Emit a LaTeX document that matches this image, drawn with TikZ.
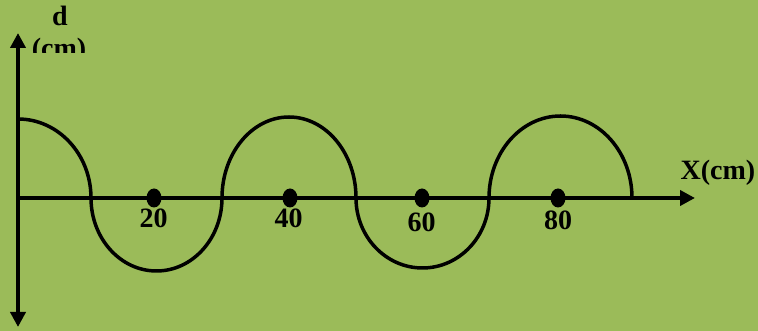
\documentclass[tikz,border=0pt]{standalone}
\usepackage{fontspec}
\setmainfont{Liberation Serif}
\usetikzlibrary{arrows.meta, shapes.geometric}
\definecolor{olivebg}{HTML}{9BBB59}

\begin{document}
\begin{tikzpicture}[x=1pt,y=1pt,axis/.style={line width=4pt,-{Triangle[length=15pt,width=15pt]}},wave/.style={line width=3.5pt},dot/.style={fill,ellipse,minimum width=15pt,minimum height=19pt,inner sep=0pt},lbl/.style={font=\fontsize{28}{30}\selectfont\bfseries,inner sep=0pt,anchor=base}]
\fill[olivebg] (0,0) rectangle (758,331);
\useasboundingbox (0,0) rectangle (758,331);
\coordinate (o) at (18,133);\coordinate (ytop) at (18,298);\coordinate (ybot) at (18,4);\coordinate (xend) at (695,133);
\draw[axis] (o) -- (ytop);\draw[axis] (o) -- (ybot);\draw[axis] (o) -- (xend);
\draw[wave] (18,212) arc[start angle=90,end angle=0,x radius=73,y radius=79] arc[start angle=180,end angle=360,x radius=65.5,y radius=73] arc[start angle=180,end angle=0,x radius=67,y radius=81] arc[start angle=180,end angle=360,x radius=66.5,y radius=70] arc[start angle=180,end angle=0,x radius=71.5,y radius=82];
\node[dot] (p20) at (154,133) {};\node[dot] (p40) at (290,133) {};\node[dot] (p60) at (422,133) {};\node[dot] (p80) at (558,133) {};
\node[lbl] (l20) at (153.5,103) {20};
\node[lbl] (l40) at (288.5,103) {40};
\node[lbl] (l60) at (421.5,99) {60};
\node[lbl] (l80) at (558,101) {80};
\node[lbl] (dlbl) at (60,305) {d};
\begin{scope}\clip (0,278) rectangle (120,331);\node[lbl] (dunit) at (59,273.5) {(cm)};\end{scope}
\node[lbl] (xlbl) at (718,151) {X(cm)};
\end{tikzpicture}
\end{document}
